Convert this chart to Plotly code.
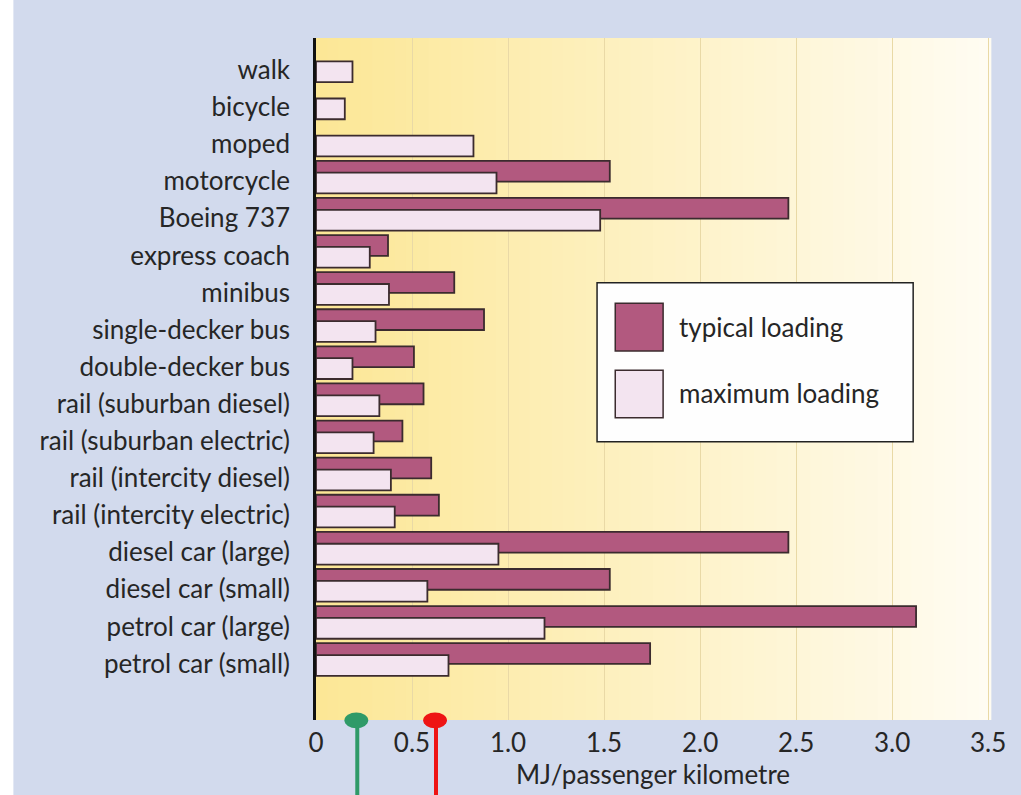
import plotly.graph_objects as go

categories = ["walk", "bicycle", "moped", "motorcycle", "Boeing 737", "express coach",
              "minibus", "single-decker bus", "double-decker bus", "rail (suburban diesel)",
              "rail (suburban electric)", "rail (intercity diesel)", "rail (intercity electric)",
              "diesel car (large)", "diesel car (small)", "petrol car (large)", "petrol car (small)"]
typical_loading = [None, None, None, 1.53, 2.46, 0.375, 0.72, 0.875, 0.51, 0.56, 0.45,
                   0.60, 0.64, 2.46, 1.53, 3.125, 1.74]
maximum_loading = [0.19, 0.15, 0.82, 0.94, 1.48, 0.28, 0.38, 0.31, 0.19, 0.33, 0.30,
                   0.39, 0.41, 0.95, 0.58, 1.19, 0.69]
x_tick_values = [0, 0.5, 1.0, 1.5, 2.0, 2.5, 3.0, 3.5]
x_tick_labels = ["0", "0.5", "1.0", "1.5", "2.0", "2.5", "3.0", "3.5"]
marker_pins = [0.21, 0.62]
marker_colors = ["#2f9a68", "#ee1414"]
series_names = ["typical loading", "maximum loading"]

TYP_COLOR = "#b2597f"
MAX_COLOR = "#f3e4f0"
EDGE = "#3b2b2e"
FONT = "Lato"
TXT = "#262626"

pos = list(range(len(categories)))
fig = go.Figure()
fig.add_trace(go.Bar(
    y=[p - 0.27 for p in pos], x=typical_loading, orientation="h", width=0.56,
    name=series_names[0], marker=dict(color=TYP_COLOR, line=dict(color=EDGE, width=1.8)),
    showlegend=False))
fig.add_trace(go.Bar(
    y=[p + 0.05 for p in pos], x=maximum_loading, orientation="h", width=0.56,
    name=series_names[1], marker=dict(color=MAX_COLOR, line=dict(color=EDGE, width=1.8)),
    showlegend=False))

shapes = []
# white page strip at the far left (scan edge)
shapes.append(dict(type="rect", xref="paper", yref="paper", x0=-0.47, x1=-0.449, y0=-0.12, y1=1.06,
                   fillcolor="#ffffff", line=dict(width=0), layer="below"))
# plot-area gradient background
n = 60
c0 = (252, 231, 150)
c1 = (255, 252, 242)
for i in range(n):
    t = i / (n - 1)
    col = tuple(round(c0[k] + (c1[k] - c0[k]) * t) for k in range(3))
    shapes.append(dict(type="rect", xref="paper", yref="paper", x0=i / n, x1=(i + 1) / n + 0.002,
                       y0=0, y1=1, fillcolor="rgb(%d,%d,%d)" % col, line=dict(width=0),
                       layer="below"))

# custom legend
shapes.append(dict(type="rect", xref="paper", yref="paper", x0=0.417, x1=0.886, y0=0.408, y1=0.641,
                   fillcolor="#fefefe", line=dict(color="#222222", width=1.5), layer="above"))
shapes.append(dict(type="rect", xref="paper", yref="paper", x0=0.444, x1=0.515, y0=0.541, y1=0.611,
                   fillcolor=TYP_COLOR, line=dict(color=EDGE, width=1.5), layer="above"))
shapes.append(dict(type="rect", xref="paper", yref="paper", x0=0.444, x1=0.515, y0=0.443, y1=0.513,
                   fillcolor=MAX_COLOR, line=dict(color=EDGE, width=1.5), layer="above"))

# pins below the axis
for v, c in zip(marker_pins, marker_colors):
    shapes.append(dict(type="line", xref="x", yref="paper", x0=v + 0.005, x1=v + 0.005,
                       y0=0.0, y1=-0.12, line=dict(color=c, width=4), layer="above"))
    shapes.append(dict(type="circle", xref="x", yref="paper", x0=v - 0.062, x1=v + 0.062,
                       y0=-0.012, y1=0.011, fillcolor=c, line=dict(color=c, width=0),
                       layer="above"))

annotations = [
    dict(text=series_names[0], xref="paper", yref="paper", x=0.536, y=0.576, xanchor="left",
         yanchor="middle", showarrow=False, font=dict(family=FONT, size=26, color=TXT)),
    dict(text=series_names[1], xref="paper", yref="paper", x=0.536, y=0.479, xanchor="left",
         yanchor="middle", showarrow=False, font=dict(family=FONT, size=26, color=TXT)),
]

fig.update_layout(
    width=1021, height=795,
    margin=dict(l=316, r=31, t=38, b=75),
    paper_bgcolor="#d2daed",
    plot_bgcolor="#fdf3c8",
    barmode="overlay",
    shapes=shapes,
    annotations=annotations,
    font=dict(family=FONT, color=TXT),
    xaxis=dict(range=[0, 3.51], tickvals=x_tick_values, ticktext=x_tick_labels,
               showgrid=True, gridcolor="#e9d9a6", gridwidth=1, zeroline=False,
               showline=False, ticks="", ticklabelstandoff=5,
               tickfont=dict(family=FONT, size=26, color=TXT),
               title=dict(text="MJ/passenger kilometre", standoff=7,
                          font=dict(family=FONT, size=26, color=TXT))),
    yaxis=dict(range=[17.52, -0.86], tickmode="array", tickvals=pos, ticktext=categories,
               showgrid=False, zeroline=False, showline=True, linecolor="#111111",
               linewidth=2.5, ticks="", ticklabelstandoff=18,
               tickfont=dict(family=FONT, size=26, color=TXT)),
)

fig.write_html("out.html", config={"displayModeBar": False},
               post_script="document.body.style.margin='0';")
